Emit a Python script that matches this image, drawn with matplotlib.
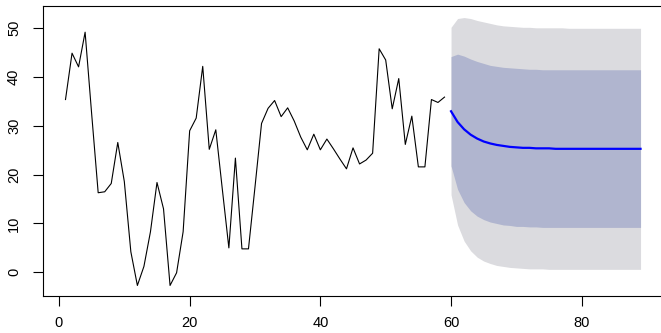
import numpy as np
import matplotlib
matplotlib.use("Agg")
import matplotlib.pyplot as plt

plt.rcParams["font.family"] = ["Liberation Sans", "DejaVu Sans"]

# observed series, t = 1..59
obs = [35.4, 44.9, 42.1, 49.2, 32.5, 16.3, 16.5, 18.2, 26.6, 18.6,
       4.2, -2.7, 1.2, 8.3, 18.4, 13.0, -2.7, -0.1, 8.3, 29.0,
       31.6, 42.2, 25.2, 29.2, 17.0, 5.0, 23.4, 4.8, 4.8, 17.5,
       30.5, 33.6, 35.2, 31.9, 33.7, 31.0, 27.7, 25.1, 28.3, 25.1,
       27.3, 25.3, 23.2, 21.2, 25.5, 22.2, 23.0, 24.4, 45.8, 43.5,
       33.5, 39.7, 26.2, 32.0, 21.6, 21.6, 35.4, 34.8, 35.9]

# forecast, t = 60..89
fc_mean = [33.0, 30.8, 29.3, 28.2, 27.4, 26.8, 26.4, 26.1, 25.9, 25.7,
           25.6, 25.5, 25.5, 25.4, 25.4, 25.4, 25.3, 25.3, 25.3, 25.3,
           25.3, 25.3, 25.3, 25.3, 25.3, 25.3, 25.3, 25.3, 25.3, 25.3]
lo80 = [21.8, 17.0, 14.3, 12.6, 11.5, 10.8, 10.3, 10.0, 9.7, 9.6,
        9.4, 9.4, 9.3, 9.3, 9.2, 9.2, 9.2, 9.2, 9.2, 9.2,
        9.2, 9.2, 9.2, 9.2, 9.2, 9.2, 9.2, 9.2, 9.2, 9.2]
hi80 = [44.2, 44.7, 44.3, 43.7, 43.2, 42.8, 42.4, 42.2, 42.0, 41.9,
        41.8, 41.7, 41.6, 41.6, 41.5, 41.5, 41.5, 41.5, 41.5, 41.5,
        41.5, 41.5, 41.5, 41.5, 41.5, 41.5, 41.5, 41.5, 41.5, 41.5]
lo95 = [15.9, 9.7, 6.4, 4.4, 3.1, 2.3, 1.8, 1.4, 1.2, 1.0,
        0.9, 0.8, 0.7, 0.7, 0.7, 0.6, 0.6, 0.6, 0.6, 0.6,
        0.6, 0.6, 0.6, 0.6, 0.6, 0.6, 0.6, 0.6, 0.6, 0.6]
hi95 = [50.2, 52.0, 52.2, 52.0, 51.6, 51.3, 51.0, 50.7, 50.5, 50.4,
        50.3, 50.2, 50.2, 50.1, 50.1, 50.1, 50.1, 50.1, 50.0, 50.0,
        50.0, 50.0, 50.0, 50.0, 50.0, 50.0, 50.0, 50.0, 50.0, 50.0]

t_obs = np.arange(1, len(obs) + 1)
t_fc = np.arange(len(obs) + 1, len(obs) + 1 + len(fc_mean))

fig = plt.figure(figsize=(6.61, 3.33), dpi=100)
# right edge of the box sits just past the image edge, as in the original
ax = fig.add_axes([0.0643, 0.1111, 0.9433, 0.8709])

ax.fill_between(t_fc, lo95, hi95, color="#DBDBDF", linewidth=0)
ax.fill_between(t_fc, lo80, hi80, color="#B0B5CF", linewidth=0)
ax.plot(t_obs, obs, color="black", lw=0.8)
ax.plot(t_fc, fc_mean, color="#0000FF", lw=1.6)

ax.set_xlim(-2.52, 92.9)
ax.set_ylim(-4.86, 54.57)
ax.set_xticks([0, 20, 40, 60, 80])
ax.set_yticks([0, 10, 20, 30, 40, 50])
ax.tick_params(axis="both", direction="out", length=7, width=0.8,
               labelsize=10.5, colors="black")
ax.tick_params(axis="x", pad=7.5)
ax.tick_params(axis="y", pad=8.5)
for lab in ax.get_yticklabels():
    lab.set_rotation(90)
    lab.set_va("center")
for s in ax.spines.values():
    s.set_linewidth(0.8)

fig.savefig("out.png", dpi=100)
